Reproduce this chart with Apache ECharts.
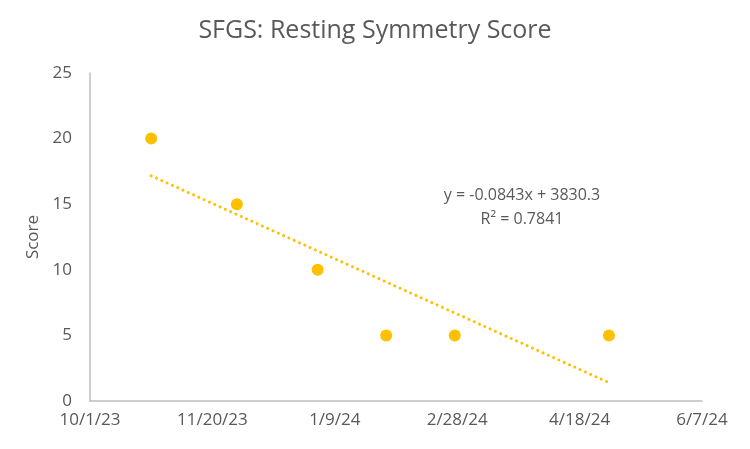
<!DOCTYPE html>
<html>
<head>
<meta charset="utf-8">
<script src="https://cdn.jsdelivr.net/npm/echarts@6/dist/echarts.min.js"></script>
<style>
  html, body { margin: 0; padding: 0; background: #fff; }
  #main { width: 750px; height: 449px; }
</style>
</head>
<body>
<div id="main"></div>
<script>
// 数据
var dates = ['2023-10-26', '2023-11-30', '2024-01-02', '2024-01-30', '2024-02-27', '2024-04-30'];
var scores = [20, 15, 10, 5, 5, 5];
var xTicks = { min: '2023-10-01', max: '2024-06-07', step: 50 };
var yTicks = { min: 0, max: 25, step: 5 };
var equationText = ['y = -0.0843x + 3830.3', 'R² = 0.7841'];

// 日期 -> Excel 序号
function toSerial(s) {
  var p = s.split('-');
  return Date.UTC(+p[0], +p[1] - 1, +p[2]) / 86400000 + 25569;
}
function serialLabel(v) {
  var d = new Date((v - 25569) * 86400000);
  return (d.getUTCMonth() + 1) + '/' + d.getUTCDate() + '/' + String(d.getUTCFullYear()).slice(2);
}

var xs = dates.map(toSerial);
var points = xs.map(function (x, i) { return [x, scores[i]]; });

// 线性趋势线（最小二乘）
var n = xs.length, mx = 0, my = 0;
for (var i = 0; i < n; i++) { mx += xs[i] / n; my += scores[i] / n; }
var sxy = 0, sxx = 0;
for (var j = 0; j < n; j++) { sxy += (xs[j] - mx) * (scores[j] - my); sxx += (xs[j] - mx) * (xs[j] - mx); }
var slope = sxy / sxx, icpt = my - slope * mx;
var xMin = Math.min.apply(null, xs), xMax = Math.max.apply(null, xs);
var trend = [[xMin, icpt + slope * xMin], [xMax, icpt + slope * xMax]];

var font = "'Open Sans', sans-serif";
var grey = '#595959';

var myChart = echarts.init(document.getElementById('main'));
var option = {
  animation: false,
  title: {
    text: 'SFGS: Resting Symmetry Score',
    left: 'center',
    top: 13,
    textStyle: { fontFamily: font, fontSize: 25, fontWeight: 'normal', color: grey }
  },
  grid: { left: 90, right: 48, top: 73, bottom: 48 },
  xAxis: {
    type: 'value',
    min: toSerial(xTicks.min),
    max: toSerial(xTicks.max),
    interval: xTicks.step,
    axisLine: { show: true, lineStyle: { color: '#bfbfbf', width: 1.5 } },
    axisTick: { show: false },
    splitLine: { show: false },
    axisLabel: {
      formatter: serialLabel,
      fontFamily: font, fontSize: 17, color: grey, margin: 11
    }
  },
  yAxis: {
    type: 'value',
    min: yTicks.min,
    max: yTicks.max,
    interval: yTicks.step,
    name: 'Score',
    nameLocation: 'middle',
    nameGap: 47,
    nameTextStyle: { fontFamily: font, fontSize: 17, color: grey },
    axisLine: { show: true, lineStyle: { color: '#bfbfbf', width: 1.5 } },
    axisTick: { show: false },
    splitLine: { show: false },
    axisLabel: { fontFamily: font, fontSize: 17, color: grey, margin: 18 }
  },
  graphic: [
    {
      type: 'text', x: 522, y: 187,
      style: { text: equationText[0], align: 'center', fontFamily: font, fontSize: 16, fill: grey }
    },
    {
      type: 'text', x: 522, y: 211,
      style: { text: equationText[1], align: 'center', fontFamily: font, fontSize: 16, fill: grey }
    }
  ],
  series: [
    {
      name: 'Trend',
      type: 'line',
      data: trend,
      symbol: 'none',
      silent: true,
      lineStyle: { color: '#FFC000', width: 3, type: [0.01, 5.8], cap: 'round' },
      z: 1
    },
    {
      name: 'Score',
      type: 'scatter',
      data: points,
      symbol: 'circle',
      symbolSize: 12,
      itemStyle: { color: '#FFC000', opacity: 1 },
      z: 2
    }
  ]
};
myChart.setOption(option);
</script>
</body>
</html>
